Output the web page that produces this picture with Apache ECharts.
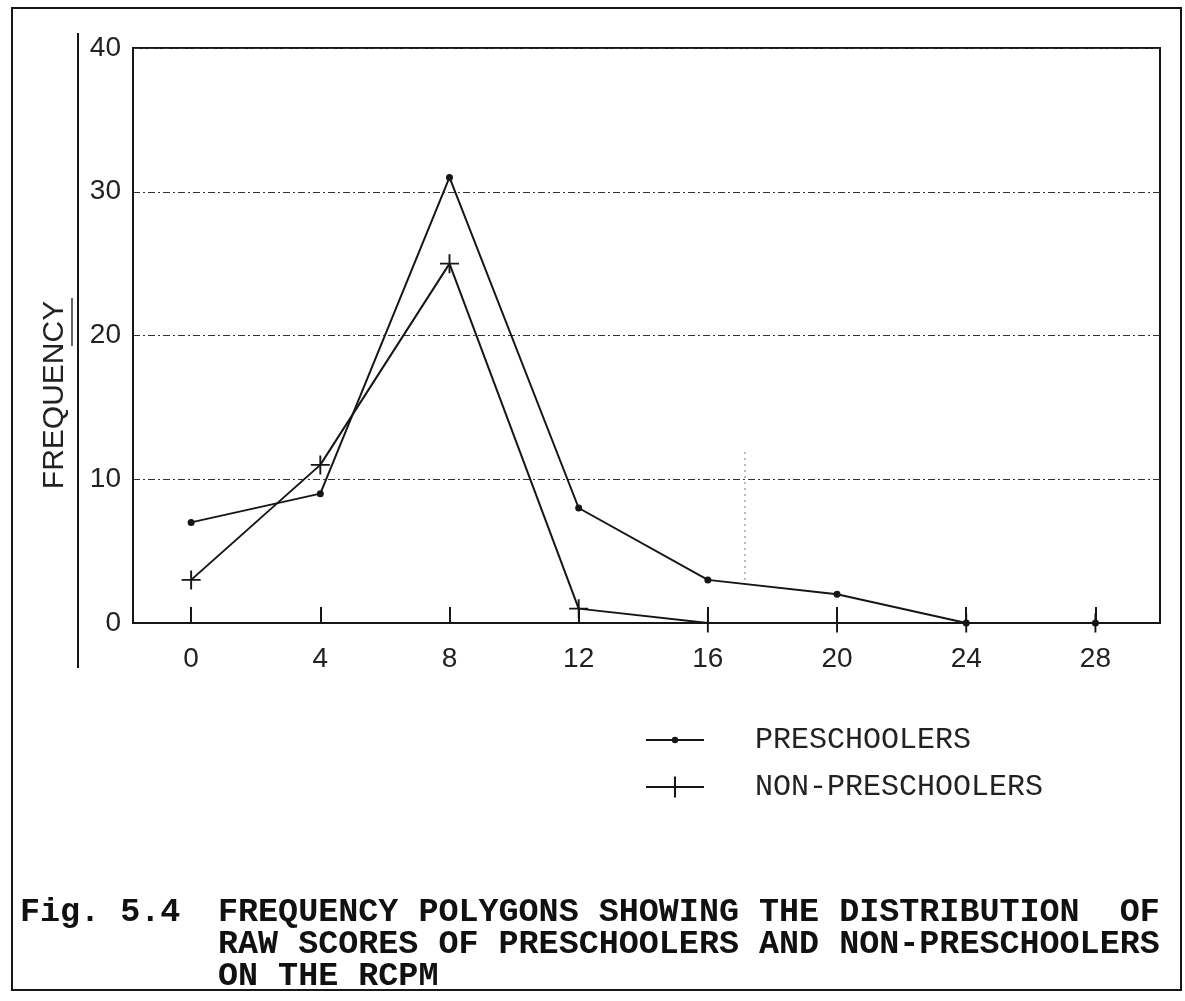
<!DOCTYPE html>
<html>
<head>
<meta charset="utf-8">
<script src="https://cdn.jsdelivr.net/npm/echarts@6/dist/echarts.min.js"></script>
<style>
html,body{margin:0;padding:0;background:#fff;}
#chart{width:1185px;height:1001px;}
</style>
</head>
<body>
<div id="chart"></div>
<script>
// ---- data ----
const scores = [0, 4, 8, 12, 16, 20, 24, 28];
const preschoolers = [7, 9, 31, 8, 3, 2, 0, 0];
const nonPreschoolers = [3, 11, 25, 1, 0, 0, 0, 0];
const xTicks = [0, 4, 8, 12, 16, 20, 24, 28];
const seriesNames = ['PRESCHOOLERS', 'NON-PRESCHOOLERS'];
const yTitle = 'FREQUENCY';
const captionLead = 'Fig. 5.4';
const captionLines = [
  'FREQUENCY POLYGONS SHOWING THE DISTRIBUTION  OF',
  'RAW SCORES OF PRESCHOOLERS AND NON-PRESCHOOLERS',
  'ON THE RCPM'
];

const INK = '#161616';
const plusPath = 'path://M0,9 L20,9 L20,11 L0,11 Z M9,0 L11,0 L11,20 L9,20 Z';
const pairs = (ys) => scores.map((x, i) => [x, ys[i]]);

const chart = echarts.init(document.getElementById('chart'), null, {renderer: 'canvas'});
chart.setOption({
  animation: false,
  backgroundColor: '#fff',
  grid: {
    left: 133, right: 25, top: 48, bottom: 378,
    show: true, borderColor: INK, borderWidth: 2, backgroundColor: 'transparent'
  },
  xAxis: {
    type: 'value', min: -1.8, max: 30,
    axisLine: {show: true, onZero: false, lineStyle: {color: INK, width: 2}},
    axisTick: {show: true, inside: true, length: 16, customValues: xTicks, lineStyle: {color: INK, width: 2}},
    axisLabel: {customValues: xTicks, margin: 22, color: '#222', fontFamily: 'Liberation Sans', fontSize: 28},
    splitLine: {show: false}
  },
  yAxis: {
    type: 'value', min: 0, max: 40, interval: 10,
    axisLine: {show: true, onZero: false, lineStyle: {color: INK, width: 2}},
    axisTick: {show: false},
    axisLabel: {margin: 12, color: '#222', fontFamily: 'Liberation Sans', fontSize: 28},
    splitLine: {show: true, lineStyle: {color: '#333', width: 1, type: [7, 3, 2, 3]}}
  },
  legend: [
    {
      data: [seriesNames[0]], left: 640, top: 720, orient: 'vertical',
      itemWidth: 58, itemHeight: 8, selectedMode: false,
      textStyle: {fontFamily: 'Liberation Mono', fontSize: 30, color: '#222', padding: [0, 0, 0, 46]}
    },
    {
      data: [seriesNames[1]], left: 640, top: 767, orient: 'vertical',
      itemWidth: 58, itemHeight: 26, selectedMode: false,
      textStyle: {fontFamily: 'Liberation Mono', fontSize: 30, color: '#222', padding: [0, 0, 0, 46]}
    }
  ],
  series: [
    {
      name: seriesNames[0], type: 'line', data: pairs(preschoolers),
      symbol: 'circle', symbolSize: 7,
      lineStyle: {color: INK, width: 2}, itemStyle: {color: INK}, z: 3
    },
    {
      name: seriesNames[1], type: 'line', data: pairs(nonPreschoolers),
      symbol: plusPath, symbolSize: 19,
      lineStyle: {color: INK, width: 2}, itemStyle: {color: INK}, z: 4
    }
  ],
  graphic: [
    {type: 'rect', shape: {x: 12, y: 8, width: 1169, height: 982}, style: {fill: 'none', stroke: INK, lineWidth: 2}, silent: true},
    {type: 'line', shape: {x1: 78, y1: 33, x2: 78, y2: 668}, style: {stroke: INK, lineWidth: 2}, silent: true},
    {type: 'text', x: 55, y: 395, rotation: Math.PI / 2,
      style: {text: yTitle, fontFamily: 'Liberation Sans', fontSize: 30, fill: '#222', align: 'center', verticalAlign: 'middle'}},
    {type: 'line', shape: {x1: 72, y1: 298, x2: 72, y2: 346}, style: {stroke: '#333', lineWidth: 1.5}, silent: true},
    {type: 'line', shape: {x1: 745, y1: 452, x2: 745, y2: 580}, style: {stroke: '#777', lineWidth: 1, lineDash: [2, 4]}, silent: true},
    {type: 'text', x: 20, y: 913,
      style: {text: captionLead, fontFamily: 'Liberation Mono', fontWeight: 'bold', fontSize: 33.4, fill: '#111', align: 'left', verticalAlign: 'middle'}},
    {type: 'text', x: 218, y: 913,
      style: {text: captionLines[0], fontFamily: 'Liberation Mono', fontWeight: 'bold', fontSize: 33.4, fill: '#111', align: 'left', verticalAlign: 'middle'}},
    {type: 'text', x: 218, y: 945,
      style: {text: captionLines[1], fontFamily: 'Liberation Mono', fontWeight: 'bold', fontSize: 33.4, fill: '#111', align: 'left', verticalAlign: 'middle'}},
    {type: 'text', x: 218, y: 977,
      style: {text: captionLines[2], fontFamily: 'Liberation Mono', fontWeight: 'bold', fontSize: 33.4, fill: '#111', align: 'left', verticalAlign: 'middle'}}
  ]
});
</script>
</body>
</html>
